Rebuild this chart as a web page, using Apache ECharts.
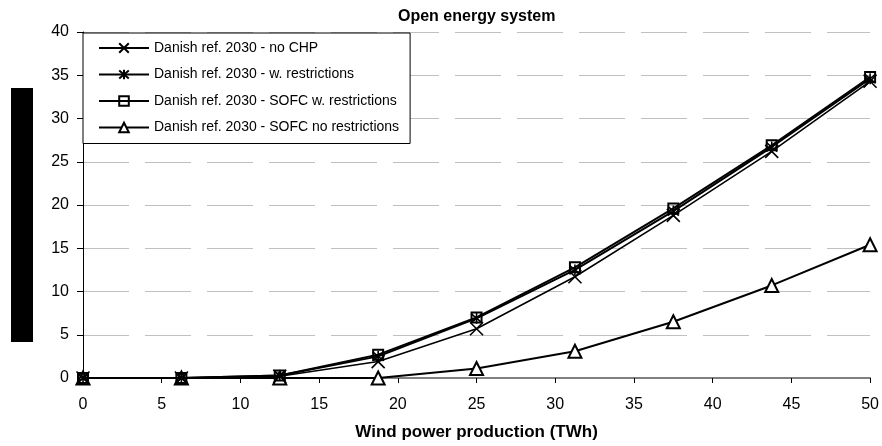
<!DOCTYPE html>
<html>
<head>
<meta charset="utf-8">
<script src="https://cdn.jsdelivr.net/npm/echarts@6/dist/echarts.min.js"></script>
<style>
  html, body { margin: 0; padding: 0; background: #fff; }
  #chart { width: 882px; height: 446px; }
</style>
</head>
<body>
<div id="chart"></div>
<script>
// Wind power production (TWh) at each simulated step
const windTWh = [0, 6.25, 12.5, 18.75, 25, 31.25, 37.5, 43.75, 50];

// Results per scenario
const noCHP = [0, 0, 0.2, 1.9, 5.7, 11.7, 18.8, 26.2, 34.3];
const withRestrictions = [0, 0, 0.3, 2.5, 6.9, 12.5, 19.3, 26.7, 34.6];
const sofcWithRestrictions = [0, 0, 0.3, 2.7, 7.0, 12.8, 19.6, 26.9, 34.8];
const sofcNoRestrictions = [0, 0, 0, 0, 1.1, 3.1, 6.5, 10.7, 15.4];

const seriesNames = [
  'Danish ref. 2030 - no CHP',
  'Danish ref. 2030 - w. restrictions',
  'Danish ref. 2030 - SOFC w. restrictions',
  'Danish ref. 2030 - SOFC no restrictions'
];

const xTicks = { min: 0, max: 50, step: 5 };
const yTicks = { min: 0, max: 40, step: 5 };

const FONT = '"Liberation Sans", Arial, sans-serif';

function pairs(values) {
  return windTWh.map((x, i) => [x, values[i]]);
}

// marker shapes
const crossPath = 'path://M0,0L10,10M10,0L0,10';
const starPath = 'path://M0,0L10,10M10,0L0,10M5,-1L5,11';

function lineSeries(name, values, symbol, size, fill, borderWidth, lineWidth, z) {
  return {
    name: name,
    type: 'line',
    z: z,
    data: pairs(values),
    symbol: symbol,
    symbolSize: size,
    showAllSymbol: true,
    animation: false,
    lineStyle: { color: '#000', width: lineWidth },
    itemStyle: { color: fill, borderColor: '#000', borderWidth: borderWidth },
    emphasis: { disabled: true }
  };
}

const chart = echarts.init(document.getElementById('chart'), null, { renderer: 'canvas' });

chart.setOption({
  animation: false,
  backgroundColor: '#fff',
  title: {
    text: 'Open energy system',
    left: 398,
    top: 9,
    padding: 0,
    textStyle: { fontFamily: FONT, fontSize: 16, fontWeight: 'bold', color: '#000' }
  },
  grid: { left: 83, right: 11, top: 32, bottom: 56, containLabel: false },
  legend: {
    orient: 'vertical',
    left: 83,
    top: 33,
    z: 5,
    itemWidth: 50,
    itemHeight: 12,
    itemGap: 12.5,
    padding: [8, 11, 9, 15],
    borderColor: '#000',
    borderWidth: 1,
    backgroundColor: '#fff',
    selectedMode: false,
    textStyle: { fontFamily: FONT, fontSize: 14, color: '#000' },
    data: seriesNames
  },
  xAxis: {
    type: 'value',
    min: xTicks.min,
    max: xTicks.max,
    interval: xTicks.step,
    name: 'Wind power production (TWh)',
    nameLocation: 'middle',
    nameGap: 46,
    nameTextStyle: { fontFamily: FONT, fontSize: 17, fontWeight: 'bold', color: '#000' },
    axisLine: { lineStyle: { color: '#808080', width: 2 } },
    axisTick: { length: 5, lineStyle: { color: '#000', width: 1 } },
    axisLabel: { fontFamily: FONT, fontSize: 16, color: '#000', margin: 19 },
    splitLine: { show: false }
  },
  yAxis: {
    type: 'value',
    min: yTicks.min,
    max: yTicks.max,
    interval: yTicks.step,
    axisLine: { show: true, lineStyle: { color: '#000', width: 1 } },
    axisTick: { show: true, length: 6, lineStyle: { color: '#000', width: 1 } },
    axisLabel: { fontFamily: FONT, fontSize: 16, color: '#000', margin: 14 },
    splitLine: { show: true, lineStyle: { color: '#c0c0c0', width: 1, type: [46, 16] } }
  },
  graphic: [
    { type: 'rect', z: 100, shape: { x: 11, y: 88, width: 22, height: 254 }, style: { fill: '#000' } }
  ],
  series: [
    lineSeries(seriesNames[0], noCHP, crossPath, 13, '#000', 1.6, 1.6, 3),
    lineSeries(seriesNames[1], withRestrictions, starPath, 11, '#000', 1.6, 2, 3),
    lineSeries(seriesNames[2], sofcWithRestrictions, 'rect', 10, 'rgba(0,0,0,0)', 2, 2, 3),
    lineSeries(seriesNames[3], sofcNoRestrictions, 'triangle', 13, '#fff', 2, 2, 2)
  ]
});
</script>
</body>
</html>
